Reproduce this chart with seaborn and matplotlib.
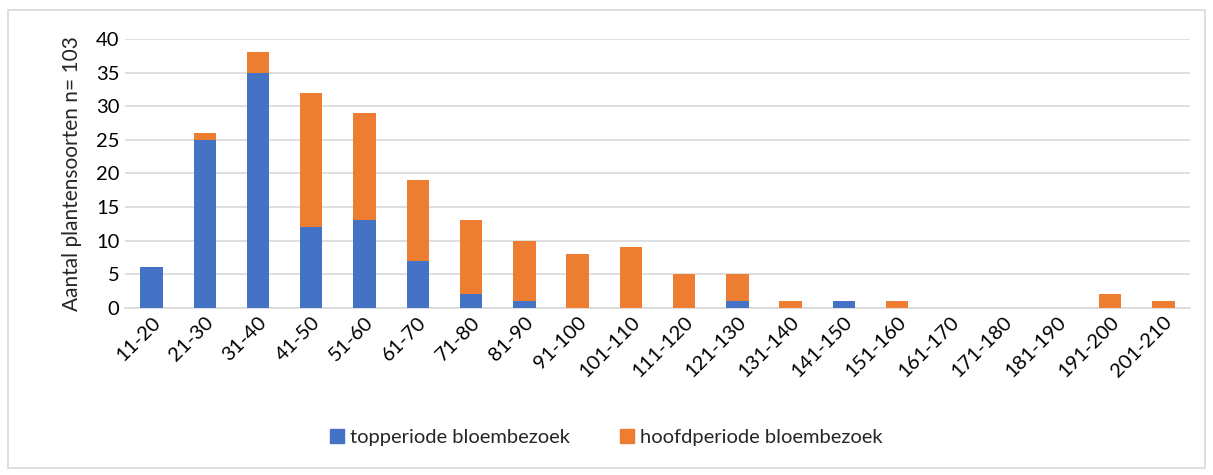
import matplotlib
matplotlib.use("Agg")
import matplotlib.pyplot as plt
import seaborn as sns
import pandas as pd
from matplotlib.patches import Patch, Rectangle

categories = ["11-20", "21-30", "31-40", "41-50", "51-60", "61-70", "71-80", "81-90",
              "91-100", "101-110", "111-120", "121-130", "131-140", "141-150", "151-160",
              "161-170", "171-180", "181-190", "191-200", "201-210"]
topperiode = [6, 25, 35, 12, 13, 7, 2, 1, 0, 0, 0, 1, 0, 1, 0, 0, 0, 0, 0, 0]
hoofdperiode = [0, 1, 3, 20, 16, 12, 11, 9, 8, 9, 5, 4, 1, 0, 1, 0, 0, 0, 2, 1]

BLUE = "#4472C4"
ORANGE = "#ED7D31"

df = pd.DataFrame({"klasse": categories, "top": topperiode, "hoofd": hoofdperiode})
df["totaal"] = df["top"] + df["hoofd"]

sns.set_style("white")
plt.rcParams["font.family"] = ["Lato", "DejaVu Sans"]

fig = plt.figure(figsize=(12.13, 4.75), dpi=100)
fig.patches.append(Rectangle((0.007, 0.015), 0.986, 0.965, transform=fig.transFigure,
                             fill=False, edgecolor="#D9D9D9", linewidth=1.2))
ax = fig.add_axes([0.103, 0.352, 0.878, 0.566])

# stacked: orange total behind, blue in front
sns.barplot(data=df, x="klasse", y="totaal", color=ORANGE, width=0.42, ax=ax,
            saturation=1, linewidth=0, zorder=3)
sns.barplot(data=df, x="klasse", y="top", color=BLUE, width=0.42, ax=ax,
            saturation=1, linewidth=0, zorder=4)

ax.set_ylim(0, 40)
ax.set_yticks(range(0, 41, 5))
ax.yaxis.grid(True, color="#D9D9D9", linewidth=1.2, zorder=0)
ax.set_axisbelow(True)
for s in ["top", "right", "left"]:
    ax.spines[s].set_visible(False)
ax.spines["bottom"].set_color("#D9D9D9")
ax.spines["bottom"].set_linewidth(1.2)
ax.tick_params(axis="both", length=0, labelsize=14.5, colors="#000000", pad=4)
plt.setp(ax.get_xticklabels(), rotation=45, ha="right", rotation_mode="anchor")
ax.set_xlabel("")
ax.set_ylabel("Aantal plantensoorten n= 103", fontsize=15, labelpad=10)
ax.set_xlim(-0.5, len(categories) - 0.5)

handles = [Patch(color=BLUE, label="topperiode bloembezoek"),
           Patch(color=ORANGE, label="hoofdperiode bloembezoek")]
fig.legend(handles=handles, loc="center", bbox_to_anchor=(0.5, 0.078), ncol=2,
           frameon=False, fontsize=14.5, handlelength=0.7, handleheight=0.7,
           handletextpad=0.3, columnspacing=2.5)

fig.savefig("out.png", dpi=100)
